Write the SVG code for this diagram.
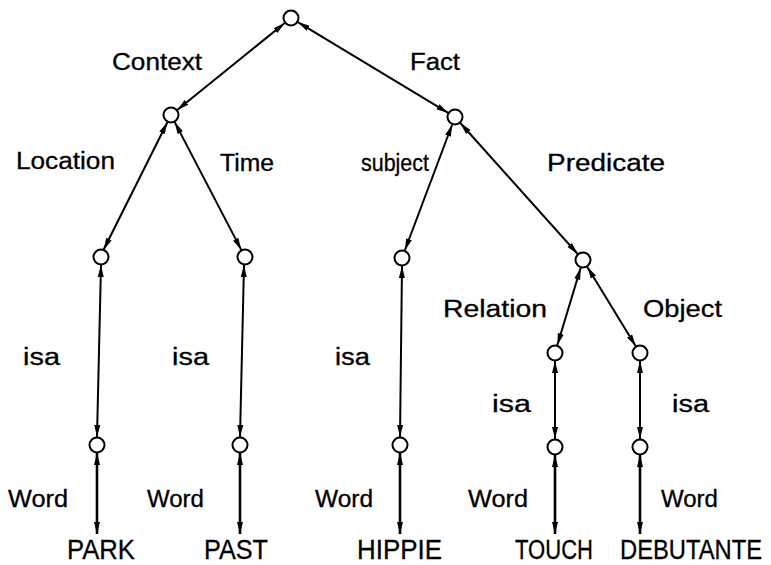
<svg xmlns="http://www.w3.org/2000/svg" width="771" height="565" viewBox="0 0 771 565">
  <style>
    .node { fill: #fff; stroke: #000; stroke-width: 2; }
    .edge { stroke: #000; stroke-width: 2; fill: none; marker-start: url(#head-start); marker-end: url(#head-end); }
    .word { stroke-width: 2.6; }
    .lbl { font-family: "Liberation Sans", Arial, sans-serif; font-size: 23px; fill: #000; stroke: #000; stroke-width: 0.3; }
    .term { font-family: "Liberation Sans", Arial, sans-serif; font-size: 27px; fill: #000; stroke: #000; stroke-width: 0.3; }
  </style>
  <defs>
    <marker id="head-end" viewBox="0 0 12 8" refX="12" refY="4" markerWidth="12" markerHeight="8" markerUnits="userSpaceOnUse" orient="auto">
      <path d="M0,1 L12,4 L0,7 Z" fill="#000"/>
    </marker>
    <marker id="head-start" viewBox="0 0 12 8" refX="0" refY="4" markerWidth="12" markerHeight="8" markerUnits="userSpaceOnUse" orient="auto">
      <path d="M12,1 L0,4 L12,7 Z" fill="#000"/>
    </marker>
  </defs>

  <!-- connectors -->
  <g id="edges">
    <line class="edge" x1="284.8" y1="23.0" x2="177.2" y2="110.0"/>
    <line class="edge" x1="297.8" y1="22.1" x2="448.2" y2="112.9"/>
    <line class="edge" x1="167.4" y1="122.2" x2="103.6" y2="249.8"/>
    <line class="edge" x1="174.7" y1="122.1" x2="241.3" y2="249.9"/>
    <line class="edge" x1="452.2" y1="124.5" x2="404.8" y2="250.5"/>
    <line class="edge" x1="460.3" y1="123.0" x2="577.7" y2="254.0"/>
    <line class="edge" x1="580.7" y1="267.7" x2="557.3" y2="345.3"/>
    <line class="edge" x1="587.2" y1="266.8" x2="635.8" y2="346.2"/>
    <!-- isa links -->
    <line class="edge" x1="101" y1="265" x2="97" y2="437"/>
    <line class="edge" x1="244" y1="265" x2="240" y2="437"/>
    <line class="edge" x1="402" y1="266" x2="400" y2="437"/>
    <line class="edge" x1="555" y1="361" x2="555" y2="439"/>
    <line class="edge" x1="640" y1="361" x2="640" y2="439"/>
    <!-- word links -->
    <line class="edge word" x1="97" y1="453" x2="97" y2="534"/>
    <line class="edge word" x1="240" y1="453" x2="240" y2="534"/>
    <line class="edge word" x1="400" y1="453" x2="400" y2="534"/>
    <line class="edge word" x1="555" y1="455" x2="555" y2="534"/>
    <line class="edge word" x1="640" y1="455" x2="640" y2="534"/>
  </g>

  <!-- nodes -->
  <g id="root"><circle class="node" cx="291" cy="18" r="7.5"/></g>
  <g id="context"><circle class="node" cx="171" cy="115" r="7.5"/></g>
  <g id="fact"><circle class="node" cx="455" cy="117" r="7.5"/></g>
  <g id="location"><circle class="node" cx="101" cy="257" r="7.5"/></g>
  <g id="time"><circle class="node" cx="245" cy="257" r="7.5"/></g>
  <g id="subject"><circle class="node" cx="402" cy="258" r="7.5"/></g>
  <g id="predicate"><circle class="node" cx="583" cy="260" r="7.5"/></g>
  <g id="relation"><circle class="node" cx="555" cy="353" r="7.5"/></g>
  <g id="object"><circle class="node" cx="640" cy="353" r="7.5"/></g>
  <g id="park-word"><circle class="node" cx="97" cy="445" r="7.5"/></g>
  <g id="past-word"><circle class="node" cx="240" cy="445" r="7.5"/></g>
  <g id="hippie-word"><circle class="node" cx="400" cy="445" r="7.5"/></g>
  <g id="touch-word"><circle class="node" cx="555" cy="447" r="7.5"/></g>
  <g id="debutante-word"><circle class="node" cx="640" cy="447" r="7.5"/></g>

  <!-- edge labels -->
  <g id="labels">
    <text class="lbl" x="112" y="70" textLength="90" lengthAdjust="spacingAndGlyphs">Context</text>
    <text class="lbl" x="410" y="70" textLength="50" lengthAdjust="spacingAndGlyphs">Fact</text>
    <text class="lbl" x="16" y="169" textLength="99" lengthAdjust="spacingAndGlyphs">Location</text>
    <text class="lbl" x="220" y="171" textLength="54" lengthAdjust="spacingAndGlyphs">Time</text>
    <text class="lbl" x="361" y="171" textLength="68" lengthAdjust="spacingAndGlyphs">subject</text>
    <text class="lbl" x="547" y="171" textLength="118" lengthAdjust="spacingAndGlyphs">Predicate</text>
    <text class="lbl" x="443" y="317" textLength="104" lengthAdjust="spacingAndGlyphs">Relation</text>
    <text class="lbl" x="643" y="317" textLength="79" lengthAdjust="spacingAndGlyphs">Object</text>
    <text class="lbl" x="23" y="365" textLength="37" lengthAdjust="spacingAndGlyphs">isa</text>
    <text class="lbl" x="172" y="365" textLength="37" lengthAdjust="spacingAndGlyphs">isa</text>
    <text class="lbl" x="335" y="365" textLength="35" lengthAdjust="spacingAndGlyphs">isa</text>
    <text class="lbl" x="492" y="412" textLength="39" lengthAdjust="spacingAndGlyphs">isa</text>
    <text class="lbl" x="672" y="412" textLength="37" lengthAdjust="spacingAndGlyphs">isa</text>
    <text class="lbl" x="8" y="507" textLength="60" lengthAdjust="spacingAndGlyphs">Word</text>
    <text class="lbl" x="147" y="507" textLength="57" lengthAdjust="spacingAndGlyphs">Word</text>
    <text class="lbl" x="315" y="507" textLength="58" lengthAdjust="spacingAndGlyphs">Word</text>
    <text class="lbl" x="468" y="507" textLength="60" lengthAdjust="spacingAndGlyphs">Word</text>
    <text class="lbl" x="661" y="507" textLength="57" lengthAdjust="spacingAndGlyphs">Word</text>
  </g>

  <!-- terminal words -->
  <g id="terms">
    <text class="term" x="67" y="559" textLength="68" lengthAdjust="spacingAndGlyphs">PARK</text>
    <text class="term" x="204" y="559" textLength="64" lengthAdjust="spacingAndGlyphs">PAST</text>
    <text class="term" x="357" y="559" textLength="85" lengthAdjust="spacingAndGlyphs">HIPPIE</text>
    <text class="term" x="515" y="559" textLength="78" lengthAdjust="spacingAndGlyphs">TOUCH</text>
    <!-- horizontally condensed so the long word stays inside the right edge -->
    <text class="term" transform="translate(620,559) scale(0.88,1)" x="0" y="0">DEBUTANTE</text>
  </g>
</svg>
